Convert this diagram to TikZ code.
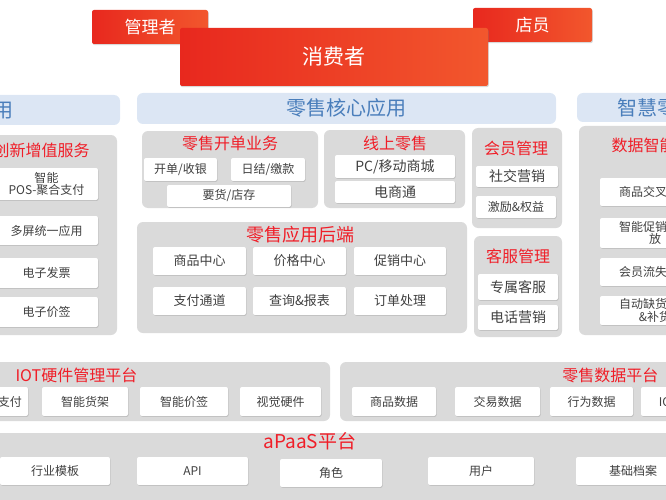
\documentclass[tikz,border=0pt]{standalone}
\usepackage{fontspec}
\setmainfont{Noto Sans CJK SC}
\usetikzlibrary{shadows,fadings}
\definecolor{pgray}{HTML}{DADADA}
\definecolor{hblue}{HTML}{DCE6F4}
\definecolor{tblue}{HTML}{4A7EBB}
\definecolor{tred}{HTML}{F01E28}
\definecolor{rA}{HTML}{E8281E}
\definecolor{rB}{HTML}{F2572D}
\tikzset{
  panel/.style={fill=pgray,rounded corners=6pt,draw=none},
  hbar/.style={fill=hblue,rounded corners=6pt,draw=none},
  wbox/.style={fill=white,rounded corners=2pt,draw=none,drop shadow={shadow xshift=0.6pt,shadow yshift=-0.8pt,opacity=0.35},align=center,font=\fontsize{12}{12.5}\selectfont,text=black!75},
  ptitle/.style={text=tred,font=\fontsize{16}{17}\selectfont},
  htitle/.style={text=tblue,font=\fontsize{20}{21}\selectfont},
  rbox/.style={left color=rA,right color=rB,rounded corners=2pt,draw=none,text=white,drop shadow={shadow xshift=0.8pt,shadow yshift=-1.2pt,opacity=0.3}},
}
\newcommand{\bx}[6]{\node[#6,minimum width={(#3-#1)*1pt},minimum height={(#4-#2)*1pt},inner sep=0pt] (#5) at ({(#1+#3)/2},{(#2+#4)/2})}
\begin{document}
\begin{tikzpicture}[x=1pt,y=-1pt]
\useasboundingbox (0,0) rectangle (666,500);
% top
\bx{92}{10}{208}{44}{mgr}{rbox}{\fontsize{17}{18}\selectfont 管理者};
\bx{473}{8}{592}{42}{clerk}{rbox}{\fontsize{17}{18}\selectfont 店员};
\bx{180}{28}{488}{86}{cons}{rbox}{\fontsize{21}{22}\selectfont 消费者};
% header bars
\bx{-20}{95}{120}{125}{hl}{hbar}{};
\node[htitle,anchor=east] (hlt) at (17,110) {应用};
\bx{137}{93}{556}{124}{hc}{hbar}{};
\node[htitle] (hct) at (346,108) {零售核心应用};
\bx{577}{93}{700}{122}{hr}{hbar}{};
\node[htitle,anchor=west] (hrt) at (614,108) {智慧零售};
% left panel
\bx{-20}{135}{117}{335}{pl}{panel}{};
\node[ptitle,anchor=west] (plt) at (-10,150) {创新增值服务};
\bx{-5}{168}{98}{200}{l1}{wbox}{智能\\POS-聚合支付};
\bx{-5}{216}{98}{245}{l2}{wbox}{多屏统一应用};
\bx{-5}{258}{98}{288}{l3}{wbox}{电子发票};
\bx{-5}{297}{98}{327}{l4}{wbox}{电子价签};
% 零售开单业务
\bx{142}{131}{318}{208}{p1}{panel}{};
\node[ptitle] (p1t) at (230,143) {零售开单业务};
\bx{144}{158}{217}{181}{a1}{wbox}{开单/收银};
\bx{231}{158}{305}{181}{a2}{wbox}{日结/缴款};
\bx{167}{185}{291}{207}{a3}{wbox}{要货/店存};
% 线上零售
\bx{324}{130}{465}{208}{p2}{panel}{};
\node[ptitle] (p2t) at (395,143) {线上零售};
\bx{335}{155}{455}{178}{b1}{wbox}{\fontsize{14}{15}\selectfont PC/移动商城};
\bx{335}{181}{455}{203}{b2}{wbox}{\fontsize{14}{15}\selectfont 电商通};
% 会员管理
\bx{472}{128}{562}{228}{p3}{panel}{};
\node[ptitle] (p3t) at (516,148) {会员管理};
\bx{476}{166}{558}{187}{c1}{wbox}{\fontsize{14}{15}\selectfont 社交营销};
\bx{476}{196}{556}{218}{c2}{wbox}{激励\&权益};
% 零售应用后端
\bx{137}{222}{467}{333}{p4}{panel}{};
\node[ptitle,font=\fontsize{18}{19}\selectfont] (p4t) at (300,235) {零售应用后端};
\bx{153}{247}{246}{275}{d1}{wbox}{\fontsize{13}{14}\selectfont 商品中心};
\bx{253}{247}{346}{275}{d2}{wbox}{\fontsize{13}{14}\selectfont 价格中心};
\bx{354}{247}{446}{275}{d3}{wbox}{\fontsize{13}{14}\selectfont 促销中心};
\bx{153}{287}{246}{315}{d4}{wbox}{\fontsize{13}{14}\selectfont 支付通道};
\bx{253}{287}{346}{315}{d5}{wbox}{\fontsize{13}{14}\selectfont 查询\&报表};
\bx{354}{287}{446}{315}{d6}{wbox}{\fontsize{13}{14}\selectfont 订单处理};
% 客服管理
\bx{474}{236}{562}{337}{p5}{panel}{};
\node[ptitle] (p5t) at (518,256) {客服管理};
\bx{478}{274}{558}{300}{e1}{wbox}{\fontsize{14}{15}\selectfont 专属客服};
\bx{478}{305}{558}{330}{e2}{wbox}{\fontsize{14}{15}\selectfont 电话营销};
% right panel
\bx{579}{126}{720}{335}{pr}{panel}{};
\node[ptitle,anchor=west] (prt) at (608,145) {数据智能};
\bx{600}{178}{710}{206}{r1}{wbox}{商品交叉推荐};
\bx{600}{218}{710}{248}{r2}{wbox}{智能促销券投\\放};
\bx{600}{258}{710}{286}{r3}{wbox}{会员流失预警};
\bx{600}{296}{710}{325}{r4}{wbox}{自动缺货分析\\\&补货};
% IOT
\bx{-20}{362}{330}{421}{pi}{panel}{};
\node[ptitle,anchor=west] (pit) at (12,375) {IOT硬件管理平台};
\bx{-60}{387}{28}{416}{i0}{wbox}{};
\node[anchor=east,font=\fontsize{12}{12.5}\selectfont,text=black!75,inner sep=0pt] (i0t) at (22,401.5) {聚合支付};
\bx{42}{387}{128}{416}{i1}{wbox}{智能货架};
\bx{140}{387}{228}{416}{i2}{wbox}{智能价签};
\bx{240}{387}{321}{416}{i3}{wbox}{视觉硬件};
% data
\bx{340}{362}{700}{421}{pd}{panel}{};
\node[ptitle,anchor=east] (pdt) at (662,375) {零售数据平台};
\bx{352}{387}{436}{416}{s1}{wbox}{商品数据};
\bx{455}{387}{540}{416}{s2}{wbox}{交易数据};
\bx{550}{387}{633}{416}{s3}{wbox}{行为数据};
\bx{641}{387}{720}{416}{s4}{wbox}{IOT数据};
% aPaaS
\bx{-20}{433}{700}{520}{pa}{panel}{};
\node[ptitle,font=\fontsize{19}{20}\selectfont] (pat) at (310,441) {aPaaS平台};
\bx{0}{457}{110}{485}{f1}{wbox}{行业模板};
\bx{137}{457}{248}{485}{f2}{wbox}{API};
\bx{280}{459}{382}{487}{f3}{wbox}{角色};
\bx{428}{457}{534}{485}{f4}{wbox}{用户};
\bx{576}{457}{690}{485}{f5}{wbox}{基础档案};
\end{tikzpicture}
\end{document}
